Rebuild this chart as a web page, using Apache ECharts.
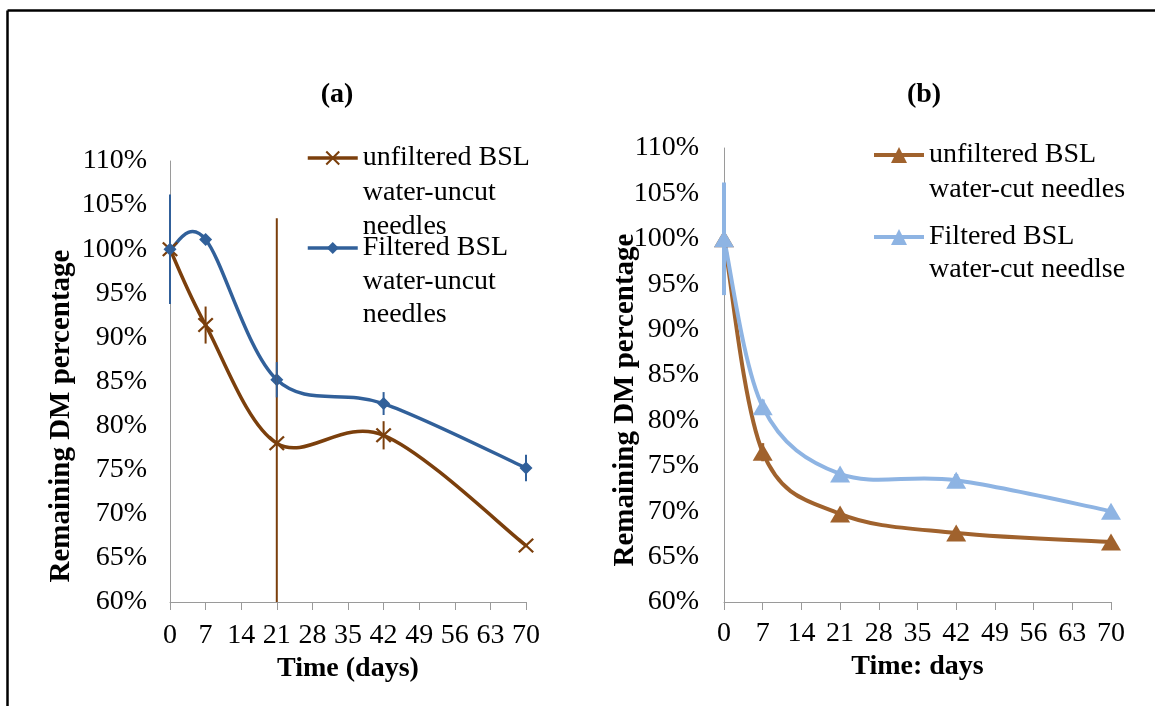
<!DOCTYPE html>
<html>
<head>
<meta charset="utf-8">
<script src="https://cdn.jsdelivr.net/npm/echarts@6/dist/echarts.min.js"></script>
<style>
  html, body { margin: 0; padding: 0; background: #fff; }
  #chart { width: 1155px; height: 706px; }
</style>
</head>
<body>
<div id="chart"></div>
<script>
// Sampling days (x axis, days since start)
const days = [0, 7, 21, 42, 70];

// (a) uncut needles: remaining dry matter, % of initial
const uncutUnfiltered = [100, 91.4, 78.0, 78.9, 66.4];
const uncutUnfilteredErr = [0, 2.1, 25.5, 1.6, 0];
const uncutFiltered = [100, 101.1, 85.2, 82.5, 75.2];
const uncutFilteredErr = [6.2, 0, 2.0, 1.3, 1.5];

// (b) cut needles: remaining dry matter, % of initial
const cutUnfiltered = [100, 76.5, 69.7, 67.6, 66.6];
const cutUnfilteredErr = [0, 1.0, 0, 0, 0];
const cutFiltered = [100, 81.5, 74.1, 73.4, 70.0];
const cutFilteredErr = [6.2, 0.8, 0, 0.7, 0];

// Series names and legend line breaks
const names = [
  'unfiltered BSL water-uncut needles',
  'Filtered BSL water-uncut needles',
  'unfiltered BSL water-cut needles',
  'Filtered BSL water-cut needlse'
];
const legendLines = {
  [names[0]]: ['unfiltered BSL', 'water-uncut', 'needles'],
  [names[1]]: ['Filtered BSL', 'water-uncut', 'needles'],
  [names[2]]: ['unfiltered BSL', 'water-cut needles'],
  [names[3]]: ['Filtered BSL', 'water-cut needlse']
};

const panelTitles = ['(a)', '(b)'];
const xAxisNames = ['Time (days)', 'Time: days'];
const yAxisName = 'Remaining DM percentage';

const FONT = '"Liberation Serif", "Times New Roman", serif';
const C_BROWN_DARK = '#7b3f0c';
const C_BLUE_DARK = '#31609a';
const C_BROWN = '#a0622d';
const C_BLUE_LIGHT = '#8eb4e3';
const AXIS_GRAY = '#9a9a9a';

const crossSymbol = 'path://M0,1L1,0L5,4L9,0L10,1L6,5L10,9L9,10L5,6L1,10L0,9L4,5Z';

function pairs(values) {
  return days.map((d, i) => [d, values[i]]);
}

// Vertical error bars, clipped to the value axis range
function errorBars(values, errs, color, width, axisIdx) {
  return {
    type: 'custom',
    xAxisIndex: axisIdx,
    yAxisIndex: axisIdx,
    z: 5,
    silent: true,
    encode: { x: 0, y: 1 },
    data: days.map((d, i) => [d, values[i], errs[i]]),
    renderItem(params, api) {
      const x = api.value(0), v = api.value(1), e = api.value(2);
      if (!e) return null;
      const lo = Math.max(v - e, 60), hi = Math.min(v + e, 110);
      const p1 = api.coord([x, lo]);
      const p2 = api.coord([x, hi]);
      return {
        type: 'line',
        shape: { x1: p1[0], y1: p1[1], x2: p2[0], y2: p2[1] },
        style: { stroke: color, lineWidth: width }
      };
    }
  };
}

// Smoothed connecting curve (cardinal spline through the data points)
function curve(values, color, width, axisIdx) {
  return {
    type: 'custom',
    xAxisIndex: axisIdx,
    yAxisIndex: axisIdx,
    z: 2,
    silent: true,
    encode: { x: 0, y: 1 },
    data: pairs(values),
    renderItem(params, api) {
      if (params.dataIndex !== 0) return null;
      const pts = days.map((d, i) => api.coord([d, values[i]]));
      const n = pts.length;
      const children = [];
      for (let i = 0; i < n - 1; i++) {
        const p0 = pts[Math.max(i - 1, 0)], p1 = pts[i], p2 = pts[i + 1], p3 = pts[Math.min(i + 2, n - 1)];
        children.push({
          type: 'bezierCurve',
          shape: {
            x1: p1[0], y1: p1[1], x2: p2[0], y2: p2[1],
            cpx1: p1[0] + (p2[0] - p0[0]) / 6, cpy1: p1[1] + (p2[1] - p0[1]) / 6,
            cpx2: p2[0] - (p3[0] - p1[0]) / 6, cpy2: p2[1] - (p3[1] - p1[1]) / 6
          },
          style: { stroke: color, lineWidth: width, fill: null, lineCap: 'round' }
        });
      }
      return { type: 'group', children };
    }
  };
}

// Markers (and legend entry) for one series
function markers(name, values, color, symbol, size, axisIdx) {
  return {
    name, type: 'line',
    xAxisIndex: axisIdx, yAxisIndex: axisIdx,
    data: pairs(values),
    symbol, symbolSize: size, showSymbol: true,
    lineStyle: { color, width: 0, opacity: 0 },
    itemStyle: { color, borderWidth: 0 },
    z: 4
  };
}

function xAxis(gridIndex, name, labelMargin, nameGap) {
  return {
    type: 'value', gridIndex, min: 0, max: 70, interval: 7,
    name, nameLocation: 'middle', nameGap,
    nameTextStyle: { fontFamily: FONT, fontWeight: 'bold', fontSize: 28, color: '#000' },
    axisLine: { show: true, lineStyle: { color: AXIS_GRAY, width: 1 } },
    axisTick: { show: true, length: 8, lineStyle: { color: AXIS_GRAY } },
    axisLabel: { fontFamily: FONT, fontSize: 28, color: '#000', margin: labelMargin },
    splitLine: { show: false }
  };
}

function yAxis(gridIndex, labelMargin) {
  return {
    type: 'value', gridIndex, min: 60, max: 110, interval: 5,
    axisLine: { show: true, lineStyle: { color: AXIS_GRAY, width: 1 } },
    axisTick: { show: false },
    axisLabel: { fontFamily: FONT, fontSize: 28, color: '#000', margin: labelMargin,
      formatter: v => v + '%' },
    splitLine: { show: false }
  };
}

// One legend block; the icon sits beside the first text line
function legendItem(name, left, iconCenterY, lineH, iconH, lineColor, lineWidth) {
  const lines = legendLines[name];
  const k = lines.length;
  const text = '\n'.repeat(k - 1) + lines.join('\n');
  return {
    data: [name], left, top: iconCenterY - (2 * k - 1) * lineH / 2,
    orient: 'vertical', padding: 0,
    itemWidth: 50, itemHeight: iconH,
    formatter: () => text,
    lineStyle: { color: lineColor, width: lineWidth, opacity: 1 },
    textStyle: { fontFamily: FONT, fontSize: 28, color: '#000', lineHeight: lineH },
    selectedMode: false
  };
}

const chart = echarts.init(document.getElementById('chart'), null, { renderer: 'canvas' });

chart.setOption({
  animation: false,
  backgroundColor: '#fff',
  grid: [
    { left: 170, top: 161, width: 356, height: 441 },
    { left: 724, top: 148, width: 387, height: 454 }
  ],
  xAxis: [xAxis(0, xAxisNames[0], 20, 52), xAxis(1, xAxisNames[1], 18, 42)],
  yAxis: [yAxis(0, 23), yAxis(1, 25)],
  legend: [
    legendItem(names[0], 306, 158, 34.5, 18, C_BROWN_DARK, 3.5),
    legendItem(names[1], 306, 248, 33.5, 15, C_BLUE_DARK, 3.5),
    legendItem(names[2], 872, 155, 35, 20, C_BROWN, 4),
    legendItem(names[3], 872, 237, 33, 20, C_BLUE_LIGHT, 4)
  ],
  series: [
    curve(uncutUnfiltered, C_BROWN_DARK, 3.5, 0),
    curve(uncutFiltered, C_BLUE_DARK, 3.5, 0),
    markers(names[0], uncutUnfiltered, C_BROWN_DARK, crossSymbol, [16, 15], 0),
    markers(names[1], uncutFiltered, C_BLUE_DARK, 'diamond', [13, 13], 0),
    errorBars(uncutUnfiltered, uncutUnfilteredErr, C_BROWN_DARK, 2, 0),
    errorBars(uncutFiltered, uncutFilteredErr, C_BLUE_DARK, 2, 0),
    curve(cutUnfiltered, C_BROWN, 4, 1),
    curve(cutFiltered, C_BLUE_LIGHT, 4, 1),
    markers(names[2], cutUnfiltered, C_BROWN, 'triangle', [20, 17], 1),
    markers(names[3], cutFiltered, C_BLUE_LIGHT, 'triangle', [20, 17], 1),
    errorBars(cutUnfiltered, cutUnfilteredErr, C_BROWN, 3, 1),
    errorBars(cutFiltered, cutFilteredErr, C_BLUE_LIGHT, 4, 1)
  ],
  graphic: [
    // frame: top and left edges
    { type: 'line', shape: { x1: 7.5, y1: 10.5, x2: 1155, y2: 10.5 }, style: { stroke: '#000', lineWidth: 2.5 } },
    { type: 'line', shape: { x1: 7.5, y1: 10.5, x2: 7.5, y2: 706 }, style: { stroke: '#000', lineWidth: 2.5 } },
    // panel titles
    { type: 'text', x: 337, y: 95, style: { text: panelTitles[0], font: 'bold 28px ' + FONT, fill: '#000', align: 'center', verticalAlign: 'middle' } },
    { type: 'text', x: 924, y: 95, style: { text: panelTitles[1], font: 'bold 28px ' + FONT, fill: '#000', align: 'center', verticalAlign: 'middle' } },
    // rotated y-axis names
    { type: 'text', x: 62, y: 416, rotation: Math.PI / 2, style: { text: yAxisName, font: 'bold 29px ' + FONT, fill: '#000', align: 'center', verticalAlign: 'middle' } },
    { type: 'text', x: 626, y: 400, rotation: Math.PI / 2, style: { text: yAxisName, font: 'bold 29px ' + FONT, fill: '#000', align: 'center', verticalAlign: 'middle' } }
  ]
});
</script>
</body>
</html>
